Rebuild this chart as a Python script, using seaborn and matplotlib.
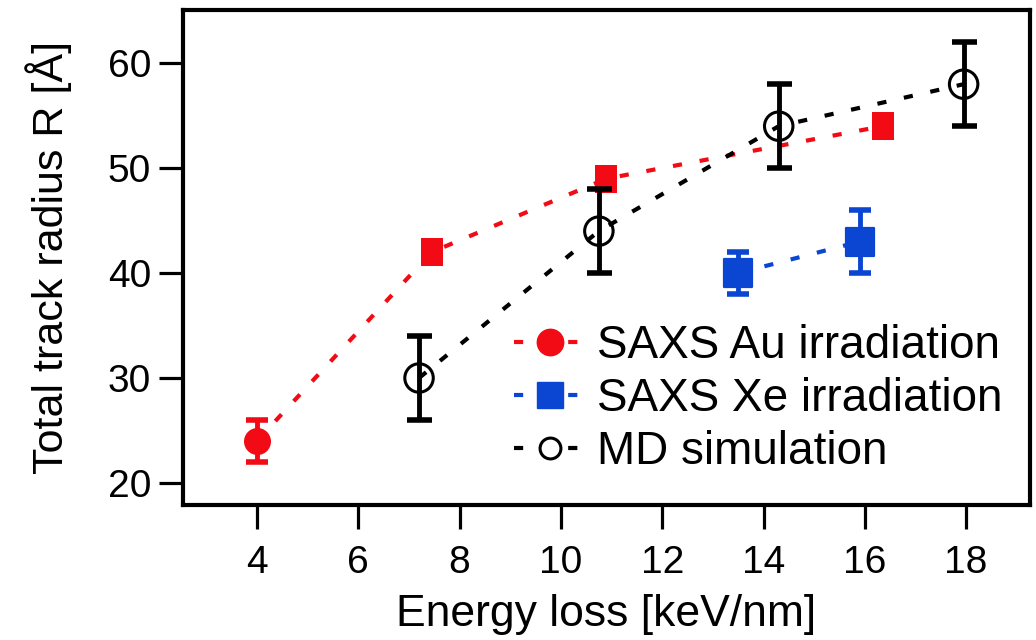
import matplotlib
matplotlib.use("Agg")
import matplotlib.pyplot as plt
from matplotlib.lines import Line2D
import seaborn as sns
import pandas as pd

# Data
au_x = [4.0, 7.45, 10.9, 16.35]
au_y = [24.0, 42.0, 49.0, 54.0]
au_err = [2.0, 0.0, 0.0, 0.0]

xe_x = [13.5, 15.9]
xe_y = [40.0, 43.0]
xe_err = [2.0, 3.0]

md_x = [7.2, 10.75, 14.3, 17.95]
md_y = [30.0, 44.0, 54.0, 58.0]
md_err = [4.0, 4.0, 4.0, 4.0]

labels = ["SAXS Au irradiation", "SAXS Xe irradiation", "MD simulation"]
x_ticks = [4, 6, 8, 10, 12, 14, 16, 18]
y_ticks = [20, 30, 40, 50, 60]

sns.set_theme(style="ticks")
plt.rcParams['font.family'] = ['Liberation Sans', 'DejaVu Sans']
plt.rcParams['text.color'] = 'black'
plt.rcParams['axes.labelcolor'] = 'black'
plt.rcParams['xtick.color'] = 'black'
plt.rcParams['ytick.color'] = 'black'

fig = plt.figure(figsize=(10.36, 6.4), dpi=100)
ax = fig.add_axes([0.1766, 0.211, 0.8176, 0.773])

red = "#f20a14"
blue = "#0a46d2"
black = "#000000"
dash = (0, (2.2, 4.3))
lw = 3.0

rect = [(-0.39, -0.5), (0.39, -0.5), (0.39, 0.5), (-0.39, 0.5), (-0.39, -0.5)]

df_au = pd.DataFrame({"x": au_x, "y": au_y})
df_xe = pd.DataFrame({"x": xe_x, "y": xe_y})
df_md = pd.DataFrame({"x": md_x, "y": md_y})

sns.lineplot(data=df_au, x="x", y="y", ax=ax, color=red, lw=lw, linestyle=dash, sort=False, zorder=2)
sns.lineplot(data=df_xe, x="x", y="y", ax=ax, color=blue, lw=lw, linestyle=dash, sort=False, zorder=2)
sns.lineplot(data=df_md, x="x", y="y", ax=ax, color=black, lw=lw, linestyle=dash, sort=False, zorder=2)

# error bars
ax.errorbar(au_x[:1], au_y[:1], yerr=au_err[:1], fmt="none", ecolor=red, elinewidth=3.5, capsize=8, capthick=4, zorder=3)
ax.errorbar(xe_x, xe_y, yerr=xe_err, fmt="none", ecolor=blue, elinewidth=3.5, capsize=8, capthick=4, zorder=3)
ax.errorbar(md_x, md_y, yerr=md_err, fmt="none", ecolor=black, elinewidth=3.5, capsize=9, capthick=4, zorder=5)

# markers
sns.scatterplot(x=au_x[:1], y=au_y[:1], ax=ax, color=red, marker="o", s=324, edgecolor=red, zorder=4)
sns.scatterplot(x=au_x[1:], y=au_y[1:], ax=ax, color=red, marker=rect, s=400, edgecolor=red, linewidth=0, zorder=4)
sns.scatterplot(x=xe_x, y=xe_y, ax=ax, color=blue, marker="s", s=400, edgecolor=blue, zorder=4)
sns.scatterplot(x=md_x, y=md_y, ax=ax, facecolor="none", marker="o", s=420, edgecolor=black, linewidth=2.2, zorder=4)

ax.set_xlim(2.54, 19.26)
ax.set_ylim(17.9, 65.05)
ax.set_xticks(x_ticks)
ax.set_yticks(y_ticks)
ax.tick_params(axis="both", which="major", labelsize=28, length=17, width=2.3, direction="out", pad=6, colors="black")
ax.tick_params(axis="x", pad=12)
for sp in ax.spines.values():
    sp.set_visible(True)
    sp.set_linewidth(3.0)
    sp.set_color("black")

ax.set_xlabel("Energy loss [keV/nm]", fontsize=32, labelpad=9)
ax.set_ylabel("Total track radius R [Å]", fontsize=31, labelpad=26)

handles = [
    Line2D([], [], color=red, lw=lw, linestyle=dash, marker="o", markersize=19, markerfacecolor=red, markeredgecolor=red),
    Line2D([], [], color=blue, lw=lw, linestyle=dash, marker="s", markersize=19, markerfacecolor=blue, markeredgecolor=blue),
    Line2D([], [], color=black, lw=lw, linestyle=dash, marker="o", markersize=15, markerfacecolor="white", markeredgecolor=black, markeredgewidth=2.2),
]
ax.legend(handles, labels, loc="lower right", bbox_to_anchor=(0.967, 0.062), frameon=False,
          fontsize=33, handlelength=1.55, handletextpad=0.25, labelspacing=0.2, borderaxespad=0, borderpad=0)

fig.savefig("out.png", dpi=100)
